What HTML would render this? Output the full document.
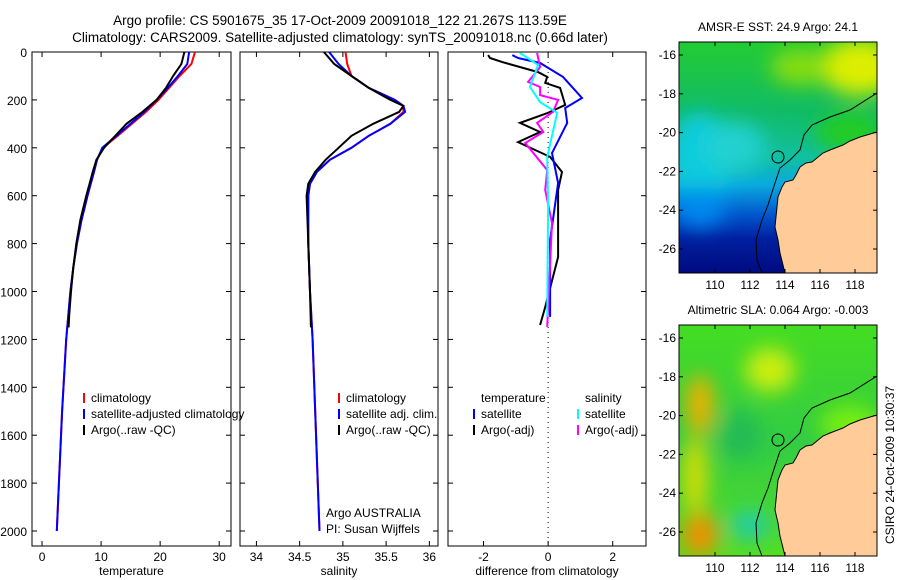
<!DOCTYPE html>
<html><head><meta charset="utf-8">
<style>
body{margin:0;background:#fff;}
svg{display:block;font-family:"Liberation Sans",sans-serif;}
</style></head>
<body>
<svg id="fig" width="900" height="580" viewBox="0 0 900 580">
<text x="340" y="25" font-size="13.5" text-anchor="middle">Argo profile: CS 5901675_35 17-Oct-2009 20091018_122 21.267S 113.59E</text>
<text x="340" y="42" font-size="13.5" text-anchor="middle">Climatology: CARS2009. Satellite-adjusted climatology: synTS_20091018.nc (0.66d later)</text>
<g id="maps"></g>
<g id="plots"></g>
</svg>
<script>
// ---- data ----
const tDepthClim=[0,50,100,150,200,250,300,350,400,450,500,600,700,800,900,1000,1200,1500,2000];
const tClim=[25.9,25.3,23.3,21.5,19.7,17.6,15.2,12.8,10.3,9.3,8.8,7.7,6.7,5.9,5.3,4.8,4.1,3.4,2.5];
const tSat=[24.9,24.6,23.0,21.3,19.4,17.3,15.0,12.6,10.2,9.3,8.8,7.7,6.7,5.9,5.3,4.8,4.1,3.4,2.5];
const tDepthArgo=[0,50,100,150,200,250,300,350,400,450,500,600,700,800,900,1000,1100,1150];
const tArgo=[24.1,23.6,22.2,21.0,19.4,17.0,14.3,12.4,10.5,9.2,8.6,7.5,6.5,5.8,5.3,4.9,4.6,4.5];
const sDepthClim=[0,50,100,150,200,225,250,300,350,400,450,500,550,600,800,1000,1200,1500,2000];
const sClim=[35.03,35.05,35.1,35.3,35.6,35.7,35.7,35.55,35.3,35.1,34.85,34.7,34.62,34.6,34.6,34.62,34.65,34.68,34.73];
const sSat=[34.84,34.95,35.1,35.3,35.6,35.7,35.72,35.55,35.3,35.1,34.85,34.7,34.62,34.6,34.6,34.62,34.65,34.68,34.73];
const sDepthArgo=[0,50,100,150,200,225,250,300,350,400,450,500,550,600,800,1000,1150];
const sArgo=[34.78,34.9,35.1,35.3,35.55,35.7,35.65,35.35,35.1,34.95,34.8,34.68,34.6,34.58,34.6,34.62,34.63];
const dTSatDepth=[13,25,46,104,192,234,296,422,547,785,1106];
const dTSat=[-1.11,-0.93,-0.25,0.46,1.05,0.53,0.59,0.12,0.31,0.06,0.06];
const dTArgoDepth=[13,25,42,84,104,129,150,221,254,296,334,376,438,501,576,856,1065,1140];
const dTArgo=[-1.86,-1.8,-1.42,-0.31,-0.03,-0.09,0.37,0.53,0,-0.87,-0.25,-0.93,0.06,0.43,0.31,0.31,-0.09,-0.25];
const dSSatDepth=[4,54,146,209,254,438,647,1106];
const dSSat=[-0.87,-0.31,-0.56,-0.25,0.28,-0.03,0,-0.03];
const dSArgoDepth=[4,63,125,146,180,200,250,296,334,380,493,576,714,1148];
const dSArgo=[-0.34,-0.25,-0.62,-0.25,-0.25,0.31,0.15,-0.34,-0.15,-0.71,-0.03,-0.09,0.12,-0.03];
const depthTicks=[0,200,400,600,800,1000,1200,1400,1600,1800,2000];
const tTicks=[0,10,20,30];
const sTicks=[34,34.5,35,35.5,36];
const sTickLabels=["34","34.5","35","35.5","36"];
const dTicks=[-2,0,2];
const lonTicks=[110,112,114,116,118];
const latTicks=[-16,-18,-20,-22,-24,-26];

const NS="http://www.w3.org/2000/svg";
function mk(tag,attrs,parent){const e=document.createElementNS(NS,tag);for(const k in attrs)e.setAttribute(k,attrs[k]);parent.appendChild(e);return e;}
const plots=document.getElementById('plots');
const yD=d=>52+d*0.2395;

function panel(name,x0,x1,xmin,xmax,xticks,xlabels,title,showY){
  const g=mk('g',{},plots);
  
  
  const sx=v=>x0+(v-xmin)/(xmax-xmin)*(x1-x0);
  const r=mk('rect',{x:x0,y:52,width:x1-x0,height:494,fill:'none',stroke:'#000','stroke-width':1},g);
  
  
  depthTicks.forEach(d=>{
    mk('line',{x1:x0,x2:x0+5,y1:yD(d),y2:yD(d),stroke:'#000'},g);
    mk('line',{x1:x1,x2:x1-5,y1:yD(d),y2:yD(d),stroke:'#000'},g);
    if(showY){const t=mk('text',{x:x0-5,y:yD(d)+5,'font-size':12,'text-anchor':'end'},g);t.textContent=d;
      
      }
  });
  xticks.forEach((v,i)=>{
    mk('line',{x1:sx(v),x2:sx(v),y1:546,y2:541,stroke:'#000'},g);
    mk('line',{x1:sx(v),x2:sx(v),y1:52,y2:57,stroke:'#000'},g);
    const t=mk('text',{x:sx(v),y:561,'font-size':12,'text-anchor':'middle'},g);t.textContent=xlabels[i];
    
    
  });
  const tt=mk('text',{x:(x0+x1)/2,y:575,'font-size':12,'text-anchor':'middle'},g);tt.textContent=title;
  
  
  return {g,sx};
}
function line(p,depths,vals,color,name){
  const pts=depths.map((d,i)=>p.sx(vals[i]).toFixed(1)+','+yD(d).toFixed(1)).join(' ');
  const l=mk('polyline',{points:pts,fill:'none',stroke:color,'stroke-width':2},p.g);
  
  
}
function legend(g,x,y,color,label,name){
  mk('line',{x1:x,x2:x,y1:y-9,y2:y+1,stroke:color,'stroke-width':2},g);
  if(label){const t=mk('text',{x:x+7,y:y,'font-size':12},g);t.textContent=label;
  
  }
}
function txt(g,x,y,s,name){const t=mk('text',{x:x,y:y,'font-size':12},g);t.textContent=s;
  
  }

const p1=panel('temperature-panel',32,231,-1.7,32,tTicks,tTicks.map(String),'temperature',true);
line(p1,tDepthClim,tClim,'#f00','temp-climatology-line');
line(p1,tDepthClim,tSat,'#00f','temp-satellite-line');
line(p1,tDepthArgo,tArgo,'#000','temp-argo-line');
legend(p1.g,84,402,'#f00','climatology','legend-climatology');
legend(p1.g,84,418,'#00f','satellite-adjusted climatology','legend-satellite');
legend(p1.g,84,434,'#000','Argo(..raw -QC)','legend-argo');
const p2=panel('salinity-panel',240,438,33.81,36.1,sTicks,sTickLabels,'salinity',false);
line(p2,sDepthClim,sClim,'#f00','sal-climatology-line');
line(p2,sDepthClim,sSat,'#00f','sal-satellite-line');
line(p2,sDepthArgo,sArgo,'#000','sal-argo-line');
legend(p2.g,339,402,'#f00','climatology','legend-climatology-2');
legend(p2.g,339,418,'#00f','satellite adj. clim.','legend-satellite-2');
legend(p2.g,339,434,'#000','Argo(..raw -QC)','legend-argo-2');
txt(p2.g,326,517,'Argo AUSTRALIA','institution-label');
txt(p2.g,326,533,'PI: Susan Wijffels','pi-label');
const p3=panel('difference-panel',448,646,-3.1,3.03,dTicks,dTicks.map(String),'difference from climatology',false);
mk('line',{x1:p3.sx(0),x2:p3.sx(0),y1:52,y2:546,stroke:'#000','stroke-dasharray':'1,4'},p3.g);
line(p3,dTArgoDepth,dTArgo,'#000','dtemp-argo-line');
line(p3,dTSatDepth,dTSat,'#00f','dtemp-satellite-line');
line(p3,dSArgoDepth,dSArgo,'#f0f','dsal-argo-line');
line(p3,dSSatDepth,dSSat,'#0ff','dsal-satellite-line');
txt(p3.g,481,402,'temperature','legend-temperature-header');
txt(p3.g,585,402,'salinity','legend-salinity-header');
legend(p3.g,474,418,'#00f','satellite','legend-t-satellite');
legend(p3.g,474,434,'#000','Argo(-adj)','legend-t-argo');
legend(p3.g,578,418,'#0ff','satellite','legend-s-satellite');
legend(p3.g,578,434,'#f0f','Argo(-adj)','legend-s-argo');

// ---- maps ----
const maps=document.getElementById('maps');
const coast=[[877,132],[860,137],[850,141],[843,145],[830,150],[823,153],[812,162],[806,163],[800,167],[796,175],[793,180],[785,182],[782,187],[778,197],[777,207],[775,227],[778,240],[780,253],[785,273],[877,273]];
const shelf=[[877,93],[850,110],[830,117],[812,125],[804,135],[800,150],[790,160],[780,168],[775,183],[768,205],[762,220],[756,240],[757,260],[762,273]];
function map(name,top,title,kind){
  const g=mk('g',{},maps);
  
  
  const off=top-42;
  const defs=mk('defs',{},g);
  const id=name+'-grad';
  const lg=mk('linearGradient',{id:id,x1:0,y1:0,x2:0,y2:1},defs);
  const stops=kind==='sst'?[[0,'#22cc33'],[0.3,'#11bb66'],[0.5,'#11c0a0'],[0.62,'#0aa8e0'],[0.75,'#0055cc'],[0.85,'#0020a0'],[1,'#000a80']]:[[0,'#44dd22'],[0.5,'#33cc44'],[1,'#55dd22']];
  stops.forEach(s=>mk('stop',{offset:s[0],'stop-color':s[1]},lg));
  const blur=mk('filter',{id:name+'-blur',x:'-50%',y:'-50%',width:'200%',height:'200%'},defs);mk('feGaussianBlur',{stdDeviation:10},blur);
  const cp=mk('clipPath',{id:name+'-clip'},defs);mk('rect',{x:679,y:top,width:198,height:231},cp);
  const inner=mk('g',{'clip-path':'url(#'+name+'-clip)'},g);
  mk('rect',{x:679,y:top,width:198,height:231,fill:'url(#'+id+')'},inner);
  const bl=mk('g',{filter:'url(#'+name+'-blur)'},inner);
  if(kind==='sst'){
    mk('ellipse',{cx:860,cy:top+25,rx:40,ry:28,fill:'#ddee00'},bl);
    mk('ellipse',{cx:800,cy:top+25,rx:30,ry:18,fill:'#88dd11'},bl);
    mk('ellipse',{cx:700,cy:top+115,rx:30,ry:45,fill:'#11ccdd'},bl);
    mk('ellipse',{cx:735,cy:top+105,rx:30,ry:25,fill:'#22d0d0'},bl);
    mk('ellipse',{cx:700,cy:top+165,rx:25,ry:20,fill:'#0088ee'},bl);
    mk('ellipse',{cx:850,cy:top+90,rx:35,ry:20,fill:'#22cc22'},bl);
  } else {
    mk('ellipse',{cx:700,cy:top+80,rx:14,ry:30,fill:'#f0b000'},bl);
    mk('ellipse',{cx:700,cy:top+210,rx:18,ry:22,fill:'#f09000'},bl);
    mk('ellipse',{cx:695,cy:top+150,rx:12,ry:40,fill:'#dddd00'},bl);
    mk('ellipse',{cx:770,cy:top+45,rx:25,ry:22,fill:'#ccee11'},bl);
    mk('ellipse',{cx:750,cy:top+200,rx:20,ry:15,fill:'#22ccaa'},bl);
    mk('ellipse',{cx:740,cy:top+110,rx:20,ry:25,fill:'#22bb55'},bl);
    mk('ellipse',{cx:850,cy:top+100,rx:30,ry:20,fill:'#77ee11'},bl);
  }
  const land=mk('polygon',{points:coast.map(p=>p[0]+','+(p[1]+off)).join(' '),fill:'#ffcc99',stroke:'#000','stroke-width':1},inner);
  
  
  mk('polyline',{points:shelf.map(p=>p[0]+','+(p[1]+off)).join(' '),fill:'none',stroke:'#000','stroke-width':1},inner);
  const c=mk('circle',{cx:778,cy:157+off,r:6,fill:'none',stroke:'#000','stroke-width':1},g);
  
  
  mk('rect',{x:679,y:top,width:198,height:231,fill:'none',stroke:'#000'},g);
  const lx=v=>683.5+(v-108.2)*17.5;
  lonTicks.forEach(v=>{
    mk('line',{x1:lx(v),x2:lx(v),y1:top,y2:top+4,stroke:'#000'},g);
    mk('line',{x1:lx(v),x2:lx(v),y1:top+231,y2:top+227,stroke:'#000'},g);
    const t=mk('text',{x:lx(v),y:top+247,'font-size':12,'text-anchor':'middle'},g);t.textContent=v;
    
    
  });
  latTicks.forEach(v=>{
    const y=top+13+(-16-v)*19.4;
    mk('line',{x1:679,x2:683,y1:y,y2:y,stroke:'#000'},g);
    mk('line',{x1:877,x2:873,y1:y,y2:y,stroke:'#000'},g);
    const t=mk('text',{x:676,y:y+4,'font-size':12,'text-anchor':'end'},g);t.textContent=v;
    
    
  });
  const tt=mk('text',{x:778,y:top-11,'font-size':12,'text-anchor':'middle'},g);tt.textContent=title;
  
  
}
map('sst-map',42,'AMSR-E SST: 24.9 Argo: 24.1','sst');
map('sla-map',325,'Altimetric SLA: 0.064 Argo: -0.003','sla');
const cs=mk('text',{x:0,y:0,'font-size':12,'text-anchor':'middle',transform:'translate(894,465) rotate(-90)'},maps);
cs.textContent='CSIRO 24-Oct-2009 10:30:37';


</script>
</body></html>
